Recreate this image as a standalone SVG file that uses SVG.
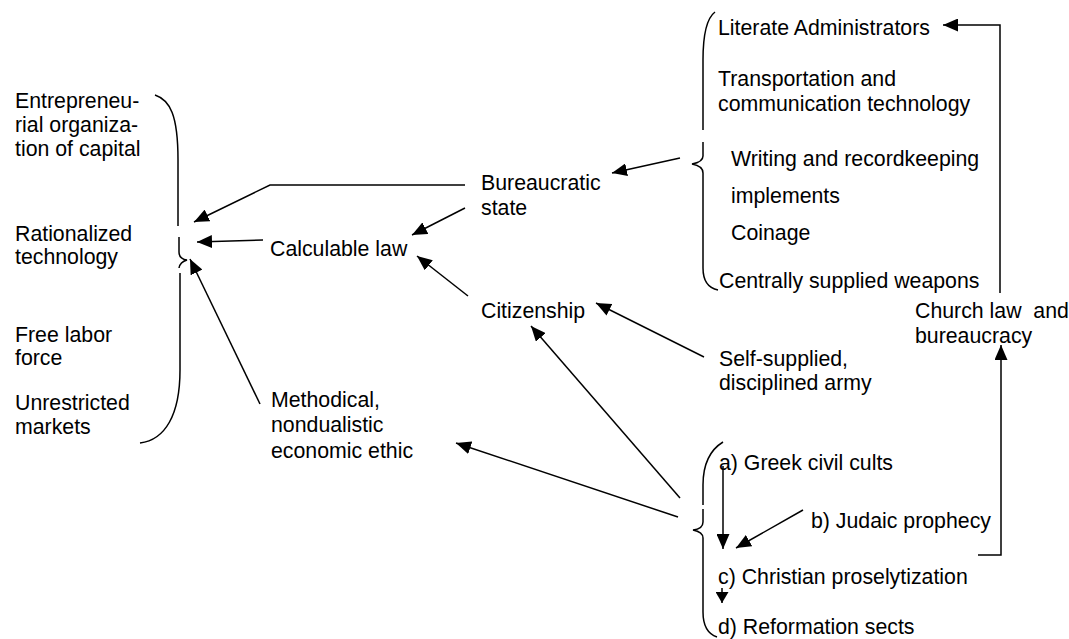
<svg xmlns="http://www.w3.org/2000/svg" width="1069" height="639" viewBox="0 0 1069 639">
<style>
text{font-family:"Liberation Sans",Arial,sans-serif;font-size:21.3px;fill:#000}
.pre{white-space:pre}
.ln{fill:none;stroke:#000;stroke-width:1.5}
.br{fill:none;stroke:#000;stroke-width:1.5}
</style>
<defs>
<marker id="ah" markerUnits="userSpaceOnUse" markerWidth="16" markerHeight="13" refX="15" refY="6.5" orient="auto" viewBox="0 0 16 13">
<path d="M0,0 L15,6.5 L0,13 z" fill="#000"/>
</marker>
<marker id="ahs" markerUnits="userSpaceOnUse" markerWidth="12" markerHeight="13" refX="11" refY="6.5" orient="auto" viewBox="0 0 12 13">
<path d="M0,0 L11,6.5 L0,13 z" fill="#000"/>
</marker>
</defs>
<rect width="1069" height="639" fill="#fff"/>

<g id="capitalism-factors">
<text x="15" y="108">Entrepreneu-</text>
<text x="15" y="132">rial organiza-</text>
<text x="15" y="156">tion of capital</text>
<text x="15" y="241">Rationalized</text>
<text x="15" y="264">technology</text>
<text x="15" y="342">Free labor</text>
<text x="15" y="365">force</text>
<text x="15" y="410">Unrestricted</text>
<text x="15" y="434">markets</text>
</g>

<g id="calculable-law"><text x="270" y="256">Calculable law</text></g>
<g id="bureaucratic-state"><text x="481" y="190">Bureaucratic</text><text x="481" y="215">state</text></g>
<g id="citizenship"><text x="481" y="318">Citizenship</text></g>
<g id="methodical-ethic"><text x="271" y="407">Methodical,</text><text x="271" y="432">nondualistic</text><text x="271" y="458">economic ethic</text></g>
<g id="self-supplied-army"><text x="719" y="366">Self-supplied,</text><text x="719" y="390">disciplined army</text></g>

<g id="state-prerequisites">
<text x="718" y="35">Literate Administrators</text>
<text x="718" y="86">Transportation and</text>
<text x="718" y="111">communication technology</text>
<text x="731" y="166">Writing and recordkeeping</text>
<text x="731" y="203">implements</text>
<text x="731" y="240">Coinage</text>
<text x="719" y="288">Centrally supplied weapons</text>
</g>

<g id="church-law"><text class="pre" x="915" y="318" xml:space="preserve">Church law  and</text><text x="915" y="343">bureaucracy</text></g>

<g id="religions">
<text x="719" y="470">a) Greek civil cults</text>
<text x="811" y="528">b) Judaic prophecy</text>
<text x="718" y="584">c) Christian proselytization</text>
<text x="718" y="634">d) Reformation sects</text>
</g>

<g id="braces">
<path class="br" d="M155,95 C170,100 178,115 178,160 L178,226"/>
<path class="br" d="M179,237 L179,252 Q179,259 187,260 Q180,262 179,268"/>
<path class="br" d="M180,273 L180,370 C180,415 165,440 140,443"/>
<path class="br" d="M715,12 C707,18 703,35 703,60 L703,130"/>
<path class="br" d="M703,142 L703,156 Q703,162 692,164 Q703,166 703,173 L703,268 C703,280 708,288 718,290"/>
<path class="br" d="M723,442 C710,450 703,465 703,485 L703,505"/>
<path class="br" d="M703,509 L703,522 Q703,529 693,530 Q703,532 703,538 L703,612 C703,625 708,634 717,637"/>
</g>

<g id="connectors">
<polyline class="ln" points="465,185 270,185 194,222" marker-end="url(#ah)"/>
<line class="ln" x1="263" y1="240" x2="197" y2="242" marker-end="url(#ah)"/>
<line class="ln" x1="260" y1="404" x2="190" y2="259" marker-end="url(#ah)"/>
<line class="ln" x1="465" y1="208" x2="412" y2="235" marker-end="url(#ah)"/>
<line class="ln" x1="468" y1="296" x2="417" y2="256" marker-end="url(#ah)"/>
<line class="ln" x1="680" y1="158" x2="612" y2="173" marker-end="url(#ah)"/>
<line class="ln" x1="704" y1="357" x2="596" y2="303" marker-end="url(#ah)"/>
<line class="ln" x1="680" y1="498" x2="531" y2="326" marker-end="url(#ah)"/>
<line class="ln" x1="678" y1="517" x2="456" y2="443" marker-end="url(#ah)"/>
<line class="ln" x1="723" y1="466" x2="723" y2="549" marker-end="url(#ah)"/>
<line class="ln" x1="803" y1="510" x2="736" y2="548" marker-end="url(#ah)"/>
<line class="ln" x1="722" y1="588" x2="722" y2="603" marker-end="url(#ahs)"/>
<polyline class="ln" points="978,555 1001,555 1001,345" marker-end="url(#ah)"/>
<polyline class="ln" points="1000,293 1000,25 943,25" marker-end="url(#ah)"/>
</g>
</svg>
